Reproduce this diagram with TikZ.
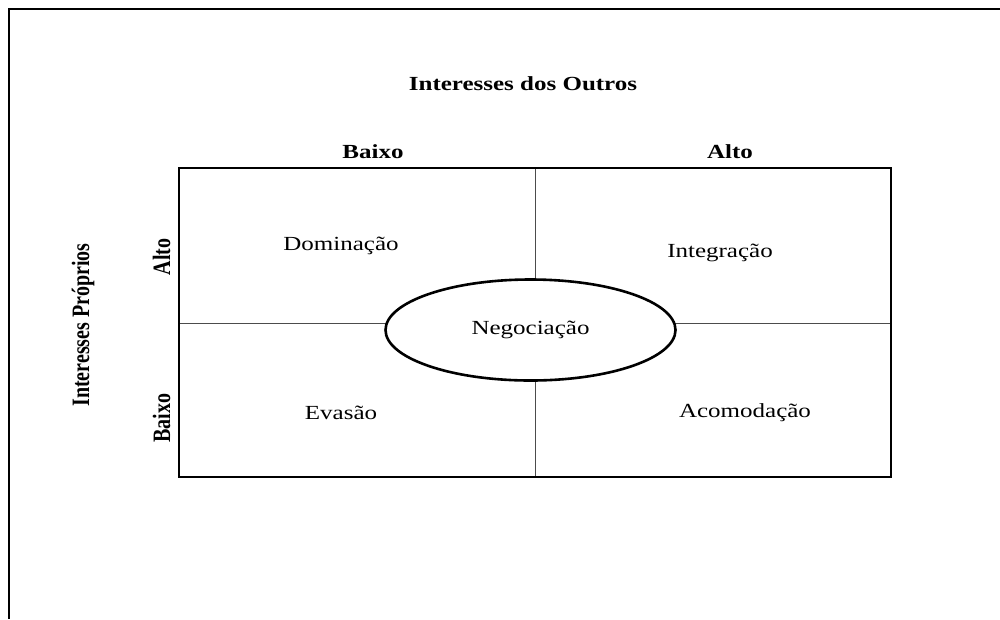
\documentclass[tikz,border=0pt]{standalone}
\usepackage{fontspec}
\setmainfont{Liberation Serif}
\usetikzlibrary{shapes.geometric}
\newcommand{\widetext}[1]{\scalebox{1.25}[1]{#1}}
\newcommand{\talltext}[1]{\scalebox{1}[1.25]{#1}}

\begin{document}
\begin{tikzpicture}[x=1pt, y=-1pt,
    quadrant/.style ={font=\fontsize{20}{24}\selectfont, anchor=base},
    heading/.style ={font=\fontsize{20}{24}\selectfont\bfseries, anchor=base},
    sidelabel/.style ={font=\fontsize{20}{24}\selectfont\bfseries, anchor=base, rotate=90},
    divider/.style ={draw=black!70, line width=1pt},
    border/.style ={draw, line width=2.6pt}]
   \useasboundingbox (0,0) rectangle (1000,619);

   % frame
   \coordinate (FR) at (1000,9);
   \coordinate (FC) at (9,9);
   \coordinate (FB) at (9,619);
   \draw[line width=1.6pt] (FR) -- (FC) -- (FB);

   % grid
   \coordinate (NW) at (179,168);
   \coordinate (SE) at (891,477);
   \coordinate (N)  at (535,168);
   \coordinate (S)  at (535,477);
   \coordinate (W)  at (179,323);
   \coordinate (E)  at (891,323);

   \draw[divider] (N) -- (S);
   \draw[divider] (W) -- (E);
   \draw[border] (NW) rectangle (SE);

   \node[ellipse, draw, line width=2.6pt, fill=white, minimum width=290pt,
         minimum height=101pt, inner sep=0pt,
         font=\fontsize{20}{24}\selectfont] (negotiation) at (530.5,330)
         {\widetext{Negociação}};

   % labels
   \node[heading] (others)     at (523,90)  {\widetext{Interesses dos Outros}};
   \node[heading] (lowothers)  at (373,158) {\widetext{Baixo}};
   \node[heading] (highothers) at (730,158) {\widetext{Alto}};

   \node[sidelabel] (own)     at (89,325)  {\talltext{Interesses Próprios}};
   \node[sidelabel] (highown) at (170,257) {\talltext{Alto}};
   \node[sidelabel] (lowown)  at (170,418) {\talltext{Baixo}};

   \node[quadrant] (domination)    at (341,250) {\widetext{Dominação}};
   \node[quadrant] (integration)   at (720,257) {\widetext{Integração}};
   \node[quadrant] (avoidance)     at (341,419) {\widetext{Evasão}};
   \node[quadrant] (accommodation) at (745,417) {\widetext{Acomodação}};
 \end{tikzpicture}
\end{document}
